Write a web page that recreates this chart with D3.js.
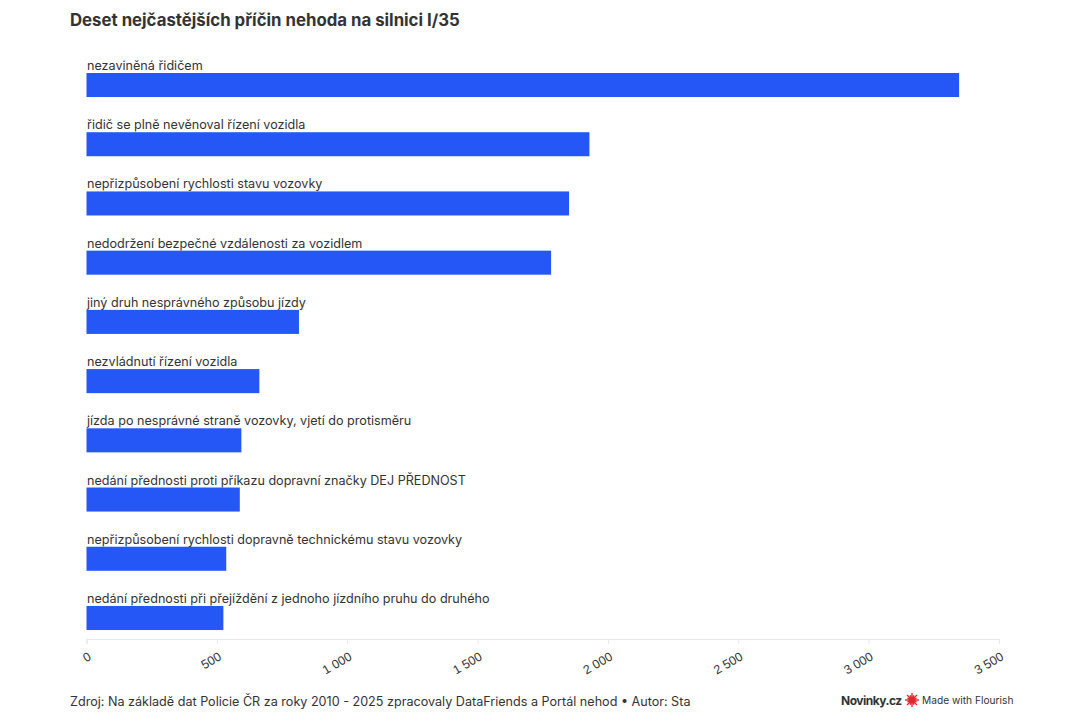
<!DOCTYPE html>
<html>
<head>
<meta charset="utf-8">
<title>Deset nejčastějších příčin nehoda na silnici I/35</title>
<script src="https://d3js.org/d3.v7.min.js"></script>
<style>
  body { margin: 0; background: #fff; }
  svg { display: block; font-family: Inter, "Noto Sans", sans-serif; }
  .title { font-size: 16.8px; font-weight: 700; fill: #333; }
  .label { font-size: 12.6px; fill: #333; }
  .axis path, .axis line { stroke: #e8e8e8; }
  .axis text { font-size: 12.5px; fill: #333; }
  .footer { font-size: 12.6px; fill: #333; }
</style>
</head>
<body>
<script>
// causes, ordered from most frequent
var causes = [
  "nezaviněná řidičem",
  "řidič se plně nevěnoval řízení vozidla",
  "nepřizpůsobení rychlosti stavu vozovky",
  "nedodržení bezpečné vzdálenosti za vozidlem",
  "jiný druh nesprávného způsobu jízdy",
  "nezvládnutí řízení vozidla",
  "jízda po nesprávné straně vozovky, vjetí do protisměru",
  "nedání přednosti proti příkazu dopravní značky DEJ PŘEDNOST",
  "nepřizpůsobení rychlosti dopravně technickému stavu vozovky",
  "nedání přednosti při přejíždění z jednoho jízdního pruhu do druhého"
];
var counts = [3347, 1929, 1851, 1782, 815, 663, 594, 588, 536, 525];
var xTicks = [0, 500, 1000, 1500, 2000, 2500, 3000, 3500];

var width = 1080, height = 720;
var svg = d3.select("body").append("svg")
    .attr("width", width)
    .attr("height", height);

svg.append("text")
    .attr("class", "title")
    .attr("x", 70)
    .attr("y", 26)
    .text("Deset nejčastějších příčin nehoda na silnici I/35");

var x = d3.scaleLinear().domain([0, 3500]).range([86.5, 999]);
var y = d3.scaleBand().domain(causes).range([73, 630]).paddingInner(0.594).paddingOuter(0);

var rows = causes.map(function(c, i) { return {cause: c, value: counts[i]}; });

svg.selectAll("rect.bar")
    .data(rows)
  .enter().append("rect")
    .attr("class", "bar")
    .attr("x", x(0))
    .attr("y", function(d) { return y(d.cause); })
    .attr("width", function(d) { return x(d.value) - x(0); })
    .attr("height", y.bandwidth())
    .attr("fill", "#2457f5");

svg.selectAll("text.label")
    .data(rows)
  .enter().append("text")
    .attr("class", "label")
    .attr("x", x(0) + 0.5)
    .attr("y", function(d) { return y(d.cause) - 3; })
    .text(function(d) { return d.cause; });

// thousands separated by a space
var loc = d3.formatLocale({decimal: ",", thousands: "\u00a0", grouping: [3], currency: ["", " Kč"]});
var fmt = loc.format(",d");

var axis = svg.append("g")
    .attr("class", "axis")
    .attr("transform", "translate(0,639)")
    .call(d3.axisBottom(x).tickValues(xTicks).tickFormat(fmt).tickSizeOuter(0).tickSize(5));

axis.selectAll("text")
    .attr("text-anchor", "end")
    .attr("dy", null)
    .attr("y", null)
    .attr("transform", "translate(5,20) rotate(-30)");

svg.append("text")
    .attr("class", "footer")
    .attr("x", 70)
    .attr("y", 706)
    .text("Zdroj: Na základě dat Policie ČR za roky 2010 - 2025 zpracovaly DataFriends a Portál nehod • Autor: Sta");

svg.append("text")
    .attr("x", 841)
    .attr("y", 705)
    .attr("font-size", 12)
    .attr("font-weight", 700)
    .attr("fill", "#333")
    .attr("letter-spacing", -0.5)
    .text("Novinky.cz");

// flourish burst
var burst = svg.append("g").attr("transform", "translate(912,700)");
d3.range(16).forEach(function(k) {
  var a = k * Math.PI / 8;
  burst.append("line")
      .attr("x1", 0).attr("y1", 0)
      .attr("x2", Math.cos(a) * (k % 2 ? 5 : 7))
      .attr("y2", Math.sin(a) * (k % 2 ? 5 : 7))
      .attr("stroke", "#e0262b")
      .attr("stroke-width", 1.4);
});
burst.append("circle").attr("r", 3).attr("fill", "#e0262b");

svg.append("text")
    .attr("x", 922)
    .attr("y", 704)
    .attr("font-size", 10.2)
    .attr("fill", "#333")
    .text("Made with Flourish");
</script>
</body>
</html>
